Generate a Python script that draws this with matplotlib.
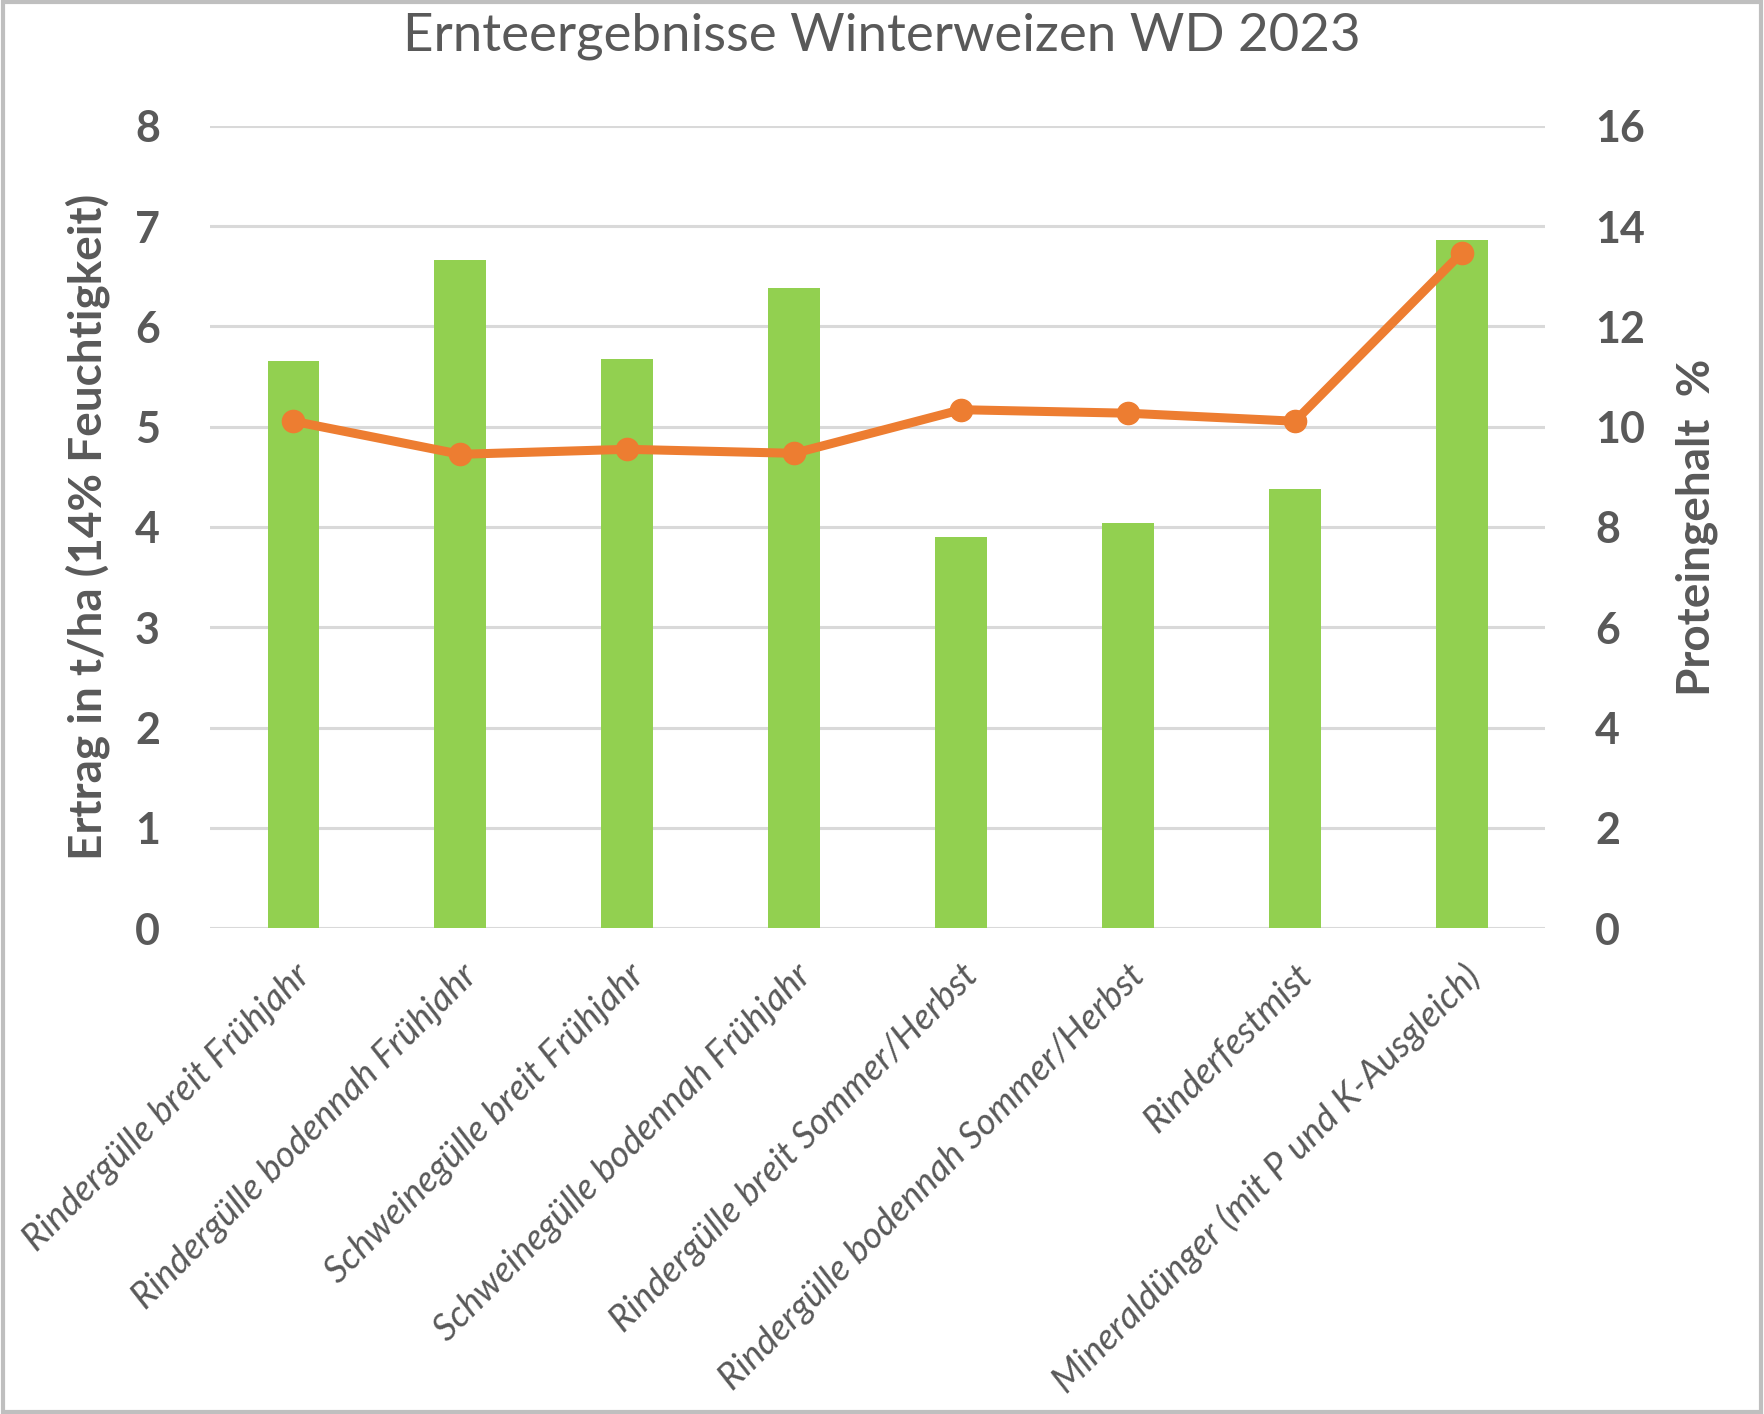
import matplotlib
matplotlib.use("Agg")
import matplotlib.pyplot as plt
from matplotlib.patches import Rectangle
import numpy as np

categories = [
    "Rindergülle breit Frühjahr",
    "Rindergülle bodennah Frühjahr",
    "Schweinegülle breit Frühjahr",
    "Schweinegülle bodennah Frühjahr",
    "Rindergülle breit Sommer/Herbst",
    "Rindergülle bodennah Sommer/Herbst",
    "Rinderfestmist",
    "Mineraldünger (mit P und K-Ausgleich)",
]
ertrag = [5.66, 6.66, 5.68, 6.38, 3.90, 4.04, 4.38, 6.86]
protein = [10.11, 9.45, 9.55, 9.47, 10.34, 10.27, 10.11, 13.47]
left_ticks = [0, 1, 2, 3, 4, 5, 6, 7, 8]
right_ticks = [0, 2, 4, 6, 8, 10, 12, 14, 16]

FONT = "Lato"
TXT = "#595959"
plt.rcParams['font.family'] = [FONT, 'DejaVu Sans']

fig = plt.figure(figsize=(17.64, 14.14), dpi=100)
ax = fig.add_axes([0.119, 0.3437, 0.757, 0.5672])
x = np.arange(len(categories))
ax.bar(x, ertrag, width=0.31, color="#92D050", zorder=2)
ax.set_xlim(-0.5, len(categories) - 0.5)
ax.set_ylim(0, 8)
ax.set_yticks(left_ticks)
ax.set_yticklabels([str(t) for t in left_ticks], fontsize=31, fontweight="bold", color=TXT)
ax.yaxis.grid(True, color="#D9D9D9", linewidth=2.2, zorder=0)
ax.set_axisbelow(True)
for s in ax.spines.values():
    s.set_visible(False)
ax.tick_params(axis="y", length=0, pad=36)
ax.tick_params(axis="x", length=0, pad=22)
ax.set_xticks(x)
ax.set_xticklabels(categories, rotation=45, ha="right", rotation_mode="anchor",
                   fontsize=26.5, fontstyle="italic", color=TXT)
ax.set_ylabel("Ertrag in t/ha (14% Feuchtigkeit)", fontsize=33, fontweight="bold",
              color=TXT, labelpad=18)

ax2 = ax.twinx()
ax2.plot(x, protein, color="#ED7D31", linewidth=6.5, marker="o", markersize=16, zorder=3)
ax2.set_ylim(0, 16)
ax2.set_yticks(right_ticks)
ax2.set_yticklabels([str(t) for t in right_ticks], fontsize=31, fontweight="bold", color=TXT)
ax2.tick_params(axis="y", length=0, pad=36)
for s in ax2.spines.values():
    s.set_visible(False)
ax2.set_ylabel("Proteingehalt  %", fontsize=33, fontweight="bold", color=TXT, labelpad=22)

fig.text(0.5, 0.991, "Ernteergebnisse Winterweizen WD 2023", ha="center", va="top",
         fontsize=38, color=TXT)

fig.patches.append(Rectangle((0.0015, 0.0015), 0.997, 0.997, transform=fig.transFigure,
                             fill=False, edgecolor="#BFBFBF", linewidth=3))

fig.savefig("out.png", dpi=100, facecolor="white")
